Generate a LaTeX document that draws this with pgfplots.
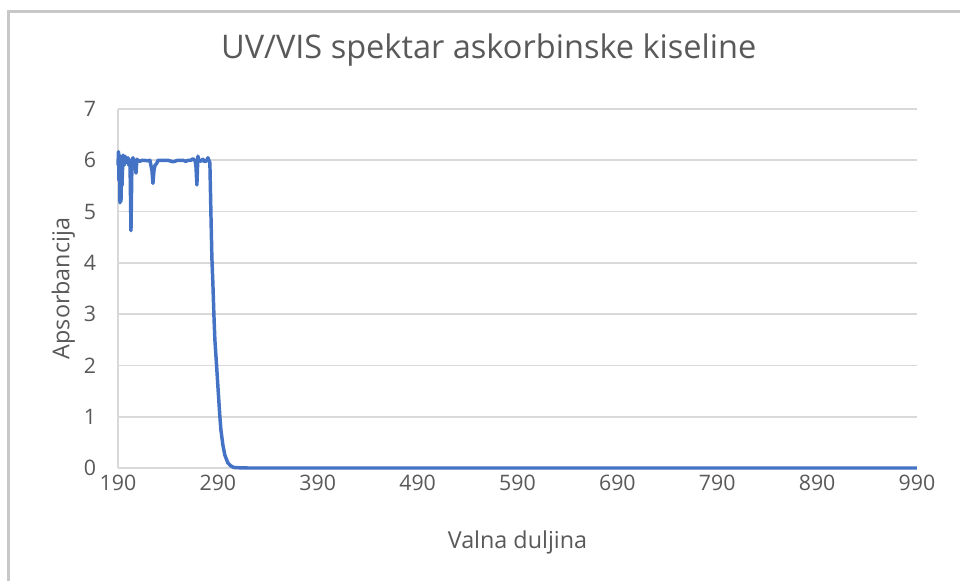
\documentclass[border=0pt]{standalone}
\usepackage{pgfplots}
\pgfplotsset{compat=1.18}
\usepackage{fontspec}
\setmainfont{Open Sans}
\definecolor{lineblue}{HTML}{4472C4}
\definecolor{gridgray}{HTML}{D9D9D9}
\definecolor{txtgray}{HTML}{595959}
\definecolor{bordergray}{HTML}{C8C8C8}
\begin{document}
\begin{tikzpicture}[x=1pt,y=1pt]
% 1px = 0.75pt; axis origin at (118,468) px
\path[use as bounding box] (-88.5,-84.75) rectangle (631.5,351);
\begin{axis}[
  at={(0,0)}, anchor=origin,
  scale only axis, width=599.25pt, height=269.25pt,
  xmin=190, xmax=990, ymin=0, ymax=7,
  xtick={190,290,...,990}, ytick={0,1,...,7},
  axis x line=bottom, axis y line=left,
  axis line style={gridgray, line width=1.2pt, -},
  major tick length=0pt,
  ymajorgrids, grid style={gridgray, line width=1.2pt},
  tick label style={font=\fontsize{16}{19}\selectfont, text=txtgray},
  /pgf/number format/assume math mode=true,
  /pgf/number format/1000 sep={},
  xticklabel style={yshift=-2pt},
  yticklabel style={xshift=-13pt},
  label style={font=\fontsize{17.5}{21}\selectfont, text=txtgray},
  xlabel={Valna duljina}, ylabel={Apsorbancija},
  xlabel style={at={(axis description cs:0.5,-0.206)}, anchor=center},
  ylabel style={at={(axis description cs:-0.0684,0.5)}, anchor=center},
  title={UV/VIS spektar askorbinske kiseline},
  title style={font=\fontsize{24.4}{28}\selectfont, text=txtgray, at={(axis description cs:0.464,1.141)}, anchor=center},
  clip=false,
]
\addplot[lineblue, line width=2.6pt, line join=round] coordinates {
(190,5.9) (190.5,6.17) (191,5.6) (191.5,6.1) (192,5.17) (192.5,5.9) (193,5.2)
(193.5,6.05) (194,5.5) (195,6.1) (196,5.9) (197,6.08) (198,6.0) (199,5.95)
(200,6.05) (201,5.9) (202,6.0) (203,4.63) (204,6.0) (205,6.05) (206,5.95)
(207,6.0) (208,5.75) (209,6.02) (210,6.0) (212,5.98) (214,6.0) (216,6.0)
(220,5.99) (222,6.0) (224,5.8) (225,5.55) (226,5.8) (227,5.9) (228,5.92)
(229,5.95) (230,6.0) (235,6.0) (240,6.0) (245,5.97) (250,6.0) (255,6.0)
(258,5.98) (260,6.0) (263,6.0) (265,6.03) (267,6.0) (268,5.9) (269,5.52)
(270,6.08) (271,6.0) (273,5.98) (275,6.02) (277,5.97) (279,6.0) (280,6.05)
(281,6.0) (282,5.95) (283,5.0) (284,4.1) (285,3.6) (286,3.0) (287,2.5)
(288.7,2.0) (290,1.6) (292,1.0) (293,0.75) (295,0.45) (297,0.25) (300,0.1)
(303,0.04) (306,0.01) (310,0.005) (320,0.0) (400,0.0) (500,0.0) (600,0.0)
(700,0.0) (800,0.0) (900,0.0) (990,0.0)
};
\end{axis}
\fill[bordergray] (-83,-100) rectangle (-81,343.5);
\fill[bordergray] (-83,341.5) rectangle (700,343.5);
\end{tikzpicture}
\end{document}
